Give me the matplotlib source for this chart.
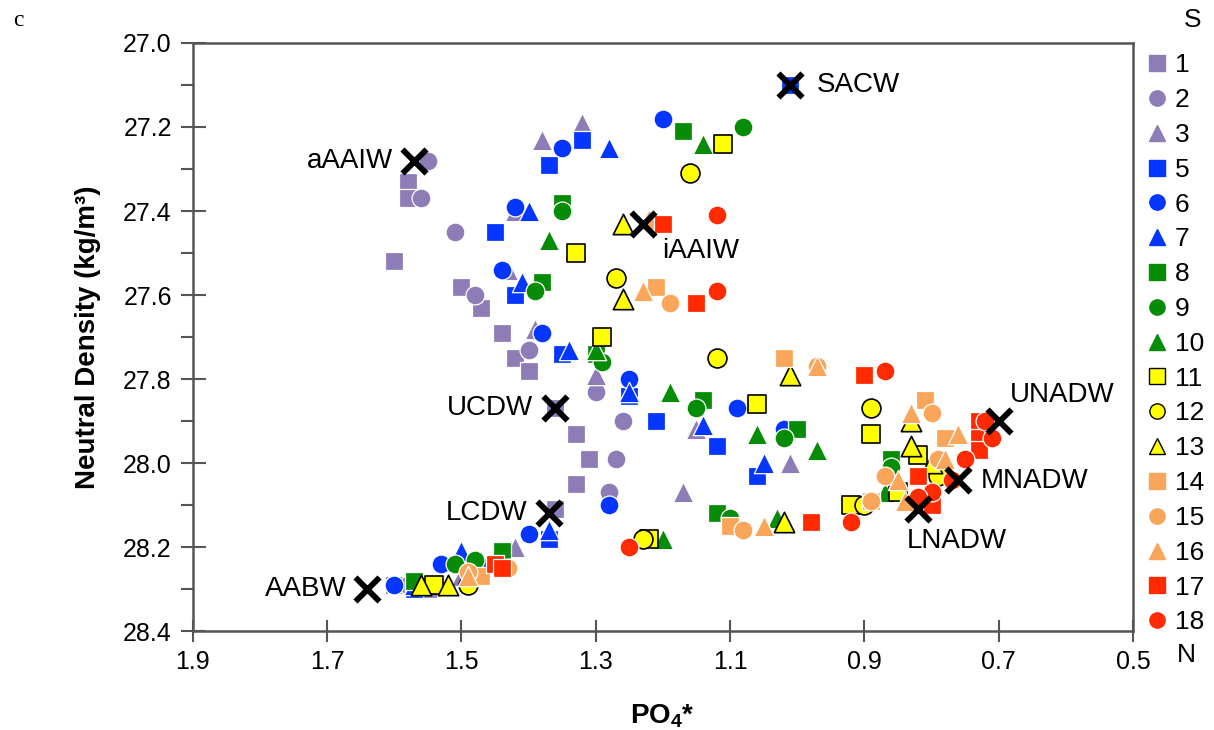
import matplotlib
matplotlib.use("Agg")
import matplotlib.pyplot as plt
import numpy as np
from matplotlib.lines import Line2D

plt.rcParams['font.family'] = ['Liberation Sans', 'DejaVu Sans']
plt.rcParams['mathtext.fontset'] = 'custom'
plt.rcParams['mathtext.rm'] = 'Liberation Sans'
plt.rcParams['mathtext.bf'] = 'Liberation Sans:bold'

# ---- data: PO4* (x) and neutral density (y) per station ----
stations = ['1', '2', '3', '5', '6', '7', '8', '9', '10', '11', '12', '13', '14', '15', '16', '17', '18']

s1_x = [1.58, 1.58, 1.60, 1.50, 1.47, 1.44, 1.42, 1.40, 1.36, 1.33, 1.31, 1.33, 1.36, 1.60, 1.55]
s1_y = [27.33, 27.37, 27.52, 27.58, 27.63, 27.69, 27.75, 27.78, 27.87, 27.93, 27.99, 28.05, 28.11, 28.29, 28.30]
s2_x = [1.55, 1.56, 1.51, 1.48, 1.40, 1.30, 1.26, 1.27, 1.28, 1.53, 1.58]
s2_y = [27.28, 27.37, 27.45, 27.60, 27.73, 27.83, 27.90, 27.99, 28.07, 28.24, 28.29]
s3_x = [1.38, 1.32, 1.42, 1.43, 1.39, 1.30, 1.17, 1.15, 1.01, 1.42, 1.50]
s3_y = [27.23, 27.19, 27.40, 27.54, 27.68, 27.79, 28.07, 27.92, 28.00, 28.20, 28.27]
s5_x = [1.32, 1.37, 1.45, 1.42, 1.35, 1.25, 1.21, 1.12, 1.06, 1.37, 1.01, 1.57]
s5_y = [27.23, 27.29, 27.45, 27.60, 27.74, 27.84, 27.90, 27.96, 28.03, 28.18, 27.10, 28.30]
s6_x = [1.20, 1.35, 1.42, 1.44, 1.38, 1.25, 1.28, 1.09, 1.02, 1.40, 1.60, 1.53]
s6_y = [27.18, 27.25, 27.39, 27.54, 27.69, 27.80, 28.10, 27.87, 27.92, 28.17, 28.29, 28.24]
s7_x = [1.28, 1.40, 1.41, 1.34, 1.25, 1.14, 1.05, 1.37, 1.50, 1.47, 1.57]
s7_y = [27.25, 27.40, 27.57, 27.73, 27.83, 27.91, 28.00, 28.16, 28.21, 28.23, 28.29]
s8_x = [1.17, 1.35, 1.38, 1.30, 1.14, 1.00, 1.12, 0.86, 1.57, 1.44]
s8_y = [27.21, 27.38, 27.57, 27.74, 27.85, 27.92, 28.12, 27.99, 28.28, 28.21]
s9_x = [1.08, 1.35, 1.39, 1.29, 1.15, 1.02, 1.10, 0.86, 1.51, 1.48]
s9_y = [27.20, 27.40, 27.59, 27.76, 27.87, 27.94, 28.13, 28.01, 28.24, 28.23]
s10_x = [1.14, 1.37, 1.30, 1.19, 1.06, 1.20, 0.97, 1.03, 0.87]
s10_y = [27.24, 27.47, 27.73, 27.83, 27.93, 28.18, 27.97, 28.13, 28.07]
s11_x = [1.11, 1.33, 1.29, 1.06, 1.22, 0.92, 0.89, 0.82, 0.85, 1.54]
s11_y = [27.24, 27.50, 27.70, 27.86, 28.18, 28.10, 27.93, 27.98, 28.07, 28.29]
s12_x = [1.16, 1.27, 1.12, 1.23, 0.89, 0.79, 0.90, 1.49]
s12_y = [27.31, 27.56, 27.75, 28.18, 27.87, 28.03, 28.10, 28.29]
s13_x = [1.26, 1.26, 1.01, 1.02, 0.83, 0.83, 0.80, 1.56, 1.52]
s13_y = [27.43, 27.61, 27.79, 28.14, 27.96, 27.90, 28.00, 28.29, 28.29]
s14_x = [1.21, 1.02, 1.10, 0.81, 0.78, 0.89, 1.47]
s14_y = [27.58, 27.75, 28.15, 27.85, 27.94, 28.09, 28.27]
s15_x = [1.19, 1.08, 0.97, 0.80, 0.79, 0.87, 0.89, 1.43, 1.49]
s15_y = [27.62, 28.16, 27.77, 27.88, 27.99, 28.03, 28.09, 28.25, 28.26]
s16_x = [1.23, 1.22, 0.97, 1.05, 0.83, 0.76, 0.78, 0.85, 0.84, 1.49]
s16_y = [27.59, 27.42, 27.77, 28.15, 27.88, 27.93, 27.99, 28.04, 28.09, 28.27]
s17_x = [1.20, 1.15, 0.98, 0.90, 0.73, 0.73, 0.73, 0.82, 0.80, 1.45, 1.44]
s17_y = [27.43, 27.62, 28.14, 27.79, 27.90, 27.94, 27.97, 28.03, 28.10, 28.24, 28.25]
s18_x = [1.12, 1.12, 1.25, 0.92, 0.87, 0.72, 0.71, 0.75, 0.77, 0.80, 0.82]
s18_y = [27.41, 27.59, 28.20, 28.14, 27.78, 27.90, 27.94, 27.99, 28.04, 28.07, 28.08]

xs = [s1_x, s2_x, s3_x, s5_x, s6_x, s7_x, s8_x, s9_x, s10_x, s11_x, s12_x, s13_x,
      s14_x, s15_x, s16_x, s17_x, s18_x]
ys = [s1_y, s2_y, s3_y, s5_y, s6_y, s7_y, s8_y, s9_y, s10_y, s11_y, s12_y, s13_y,
      s14_y, s15_y, s16_y, s17_y, s18_y]

# water mass end-members
wm_names = ['SACW', 'aAAIW', 'iAAIW', 'UCDW', 'LCDW', 'AABW', 'UNADW', 'MNADW', 'LNADW']
wm_x = [1.01, 1.57, 1.23, 1.36, 1.37, 1.64, 0.70, 0.76, 0.82]
wm_y = [27.10, 27.28, 27.43, 27.87, 28.12, 28.30, 27.90, 28.04, 28.11]

# ---- styles ----
purple, blue, green = '#8E7CB6', '#0536FF', '#078C07'
yellow, orange, red = '#FFFF00', '#F9A65A', '#FF2A00'
colors = [purple] * 3 + [blue] * 3 + [green] * 3 + [yellow] * 3 + [orange] * 3 + [red] * 2
markers = ['s', 'o', '^'] * 5 + ['s', 'o']
sizes = {'s': 170, 'o': 185, '^': 215}

# label offsets in points (dx, dy, ha, va)
wm_off = {
    'SACW': (19, 0, 'left', 'center'),
    'aAAIW': (-15, 0, 'right', 'center'),
    'iAAIW': (14, -20, 'left', 'center'),
    'UCDW': (-16, 0, 'right', 'center'),
    'LCDW': (-15, 0, 'right', 'center'),
    'AABW': (-15, 0, 'right', 'center'),
    'UNADW': (8, 19, 'left', 'center'),
    'MNADW': (16, -1, 'left', 'center'),
    'LNADW': (-8, -23, 'left', 'center'),
}

fig = plt.figure(figsize=(12.14, 7.30), dpi=100)
ax = fig.add_axes([0.1587, 0.1356, 0.7746, 0.8055])

handles = []
for lab, x, y, c, m in zip(stations, xs, ys, colors, markers):
    ec = 'black' if c == yellow else 'white'
    lw = 1.2 if c == yellow else 0.9
    ax.scatter(x, y, s=sizes[m], marker=m, c=c, edgecolors=ec, linewidths=lw, zorder=3)
    handles.append(Line2D([], [], linestyle='none', marker=m, markersize=11 if m != '^' else 12,
                          markerfacecolor=c, markeredgecolor=('black' if c == yellow else c),
                          markeredgewidth=1.0, label=lab))

ax.scatter(wm_x, wm_y, marker='x', s=300, c='black', linewidths=4.2, zorder=5)
for name, x, y in zip(wm_names, wm_x, wm_y):
    dx, dy, ha, va = wm_off[name]
    ax.annotate(name, (x, y), xytext=(dx, dy), textcoords='offset points',
                ha=ha, va=va, fontsize=20, zorder=6)

ax.set_xlim(1.9, 0.5)
ax.set_ylim(28.4, 27.0)
xt = np.round(np.arange(0.5, 1.91, 0.2), 1)
ax.set_xticks(xt)
ax.set_xticklabels([f'{v:.1f}' for v in xt])
yt = np.round(np.arange(27.0, 28.41, 0.2), 1)
ax.set_yticks(yt)
ax.set_yticklabels([f'{v:.1f}' for v in yt])
ax.set_yticks(np.round(np.arange(27.1, 28.4, 0.2), 1), minor=True)

for sp in ax.spines.values():
    sp.set_color('#555555')
    sp.set_linewidth(1.8)
ax.tick_params(axis='y', which='major', direction='inout', length=18, width=1.5,
               color='#555555', labelsize=18, pad=6)
ax.tick_params(axis='y', which='minor', direction='out', length=9, width=1.5, color='#555555')
ax.tick_params(axis='x', which='major', direction='inout', length=16, width=1.5,
               color='#555555', labelsize=18, pad=6)

ax.set_xlabel(r'PO$_\mathbf{4}$*', fontsize=20, fontweight='bold', labelpad=20)
ax.set_ylabel('Neutral Density (kg/m³)', fontsize=20, fontweight='bold', labelpad=16)

leg = fig.legend(handles=handles, loc='upper left', bbox_to_anchor=(0.944, 0.927),
                 frameon=False, fontsize=19, handlelength=0.8, handletextpad=0.3,
                 labelspacing=0.41, borderaxespad=0, borderpad=0)

fig.text(1193 / 1214, 1 - 20 / 730, 'S', fontsize=19, ha='center', va='center')
fig.text(1186 / 1214, 1 - 655 / 730, 'N', fontsize=19, ha='center', va='center')
fig.text(18 / 1214, 1 - 20 / 730, 'c', fontsize=17, ha='center', va='center',
         family=['Liberation Serif', 'DejaVu Serif'])

fig.savefig('out.png', dpi=100)
